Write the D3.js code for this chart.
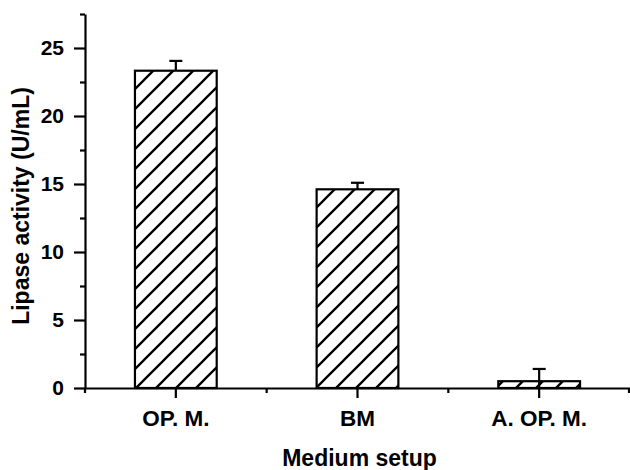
<!DOCTYPE html>
<html>
<head>
<meta charset="utf-8">
<script src="https://cdn.jsdelivr.net/npm/d3@7/dist/d3.min.js"></script>
<style>
html,body{margin:0;padding:0;background:#fff;}
svg{display:block;font-family:"Liberation Sans",Arial,sans-serif;font-weight:bold;}
</style>
</head>
<body>
<svg id="chart" width="630" height="470"></svg>
<script>
const categories = ["OP. M.", "BM", "A. OP. M."];
const values = [23.33, 14.61, 0.5];
const errors = [0.72, 0.48, 0.9];
const yTicks = [0, 5, 10, 15, 20, 25];
const yMinorTicks = [2.5, 7.5, 12.5, 17.5, 22.5, 27.5];
const xTitle = "Medium setup";
const yTitle = "Lipase activity (U/mL)";

(function () {
const svg = d3.select("#chart");
const mLeft = 85, mRight = 630, mTop = 14, mBottom = 388;

const x = d3.scaleBand().domain(categories).range([mLeft, mRight]).padding(0);
const y = d3.scaleLinear().domain([0, 27.5]).range([mBottom, mTop]);
const barW = x.bandwidth() * 0.45;

const defs = svg.append("defs");
const pat = defs.append("pattern")
  .attr("id", "hatch")
  .attr("patternUnits", "userSpaceOnUse")
  .attr("width", 20).attr("height", 20)
  .attr("patternTransform", "translate(4,0)");
pat.append("rect").attr("width", 20).attr("height", 20).attr("fill", "#fff");
pat.append("path")
  .attr("d", "M-5,5 L5,-5 M0,20 L20,0 M15,25 L25,15")
  .attr("stroke", "#000").attr("stroke-width", 2.3).attr("fill", "none");

// bars
svg.append("g").selectAll("rect").data(categories).join("rect")
  .attr("x", d => x(d) + x.bandwidth() / 2 - barW / 2)
  .attr("width", barW)
  .attr("y", (d, i) => y(values[i]))
  .attr("height", (d, i) => y(0) - y(values[i]))
  .attr("fill", "url(#hatch)")
  .attr("stroke", "#000").attr("stroke-width", 2.2);

// error bars
const eg = svg.append("g").attr("stroke", "#000").attr("stroke-width", 2.2);
categories.forEach((c, i) => {
  const cx = x(c) + x.bandwidth() / 2;
  const lo = values[i] - errors[i] < 0 ? 0 : values[i];
  eg.append("line").attr("x1", cx).attr("x2", cx)
    .attr("y1", y(lo)).attr("y2", y(values[i] + errors[i]));
  eg.append("line").attr("x1", cx - 6.5).attr("x2", cx + 6.5)
    .attr("y1", y(values[i] + errors[i])).attr("y2", y(values[i] + errors[i]));
});

// y axis
const yAxis = d3.axisLeft(y).tickValues(yTicks).tickSize(11).tickSizeOuter(0).tickPadding(10);
const gy = svg.append("g").attr("transform", `translate(${mLeft},0)`).call(yAxis);
gy.selectAll("text").attr("font-size", 21).attr("font-family", "Liberation Sans, Arial, sans-serif").attr("font-weight", "bold").attr("fill", "#000");
const gym = svg.append("g").attr("transform", `translate(${mLeft},0)`)
  .call(d3.axisLeft(y).tickValues(yMinorTicks).tickSize(5).tickFormat(""));
gym.select(".domain").remove();

// x axis
const xAxis = d3.axisBottom(x).tickSize(10).tickSizeOuter(0).tickPadding(12);
const gx = svg.append("g").attr("transform", `translate(0,${mBottom})`).call(xAxis);
gx.selectAll("text").attr("font-size", 22.5).attr("font-family", "Liberation Sans, Arial, sans-serif").attr("font-weight", "bold").attr("fill", "#000");
const bounds = categories.map(c => x(c)).concat([x.range()[1] - 1]);
svg.append("g").selectAll("line").data(bounds).join("line")
  .attr("x1", d => d).attr("x2", d => d)
  .attr("y1", mBottom).attr("y2", mBottom + 5)
  .attr("stroke", "#000").attr("stroke-width", 2.2);

svg.selectAll(".domain, .tick line").attr("stroke", "#000").attr("stroke-width", 2.2);

// titles
svg.append("text").attr("x", (mLeft + mRight) / 2 + 2).attr("y", 466)
  .attr("text-anchor", "middle").attr("font-size", 23).attr("fill", "#000").text(xTitle);
svg.append("text").attr("transform", "translate(29,206) rotate(-90)")
  .attr("text-anchor", "middle").attr("font-size", 23).attr("fill", "#000").text(yTitle);
})();
</script>
</body>
</html>
